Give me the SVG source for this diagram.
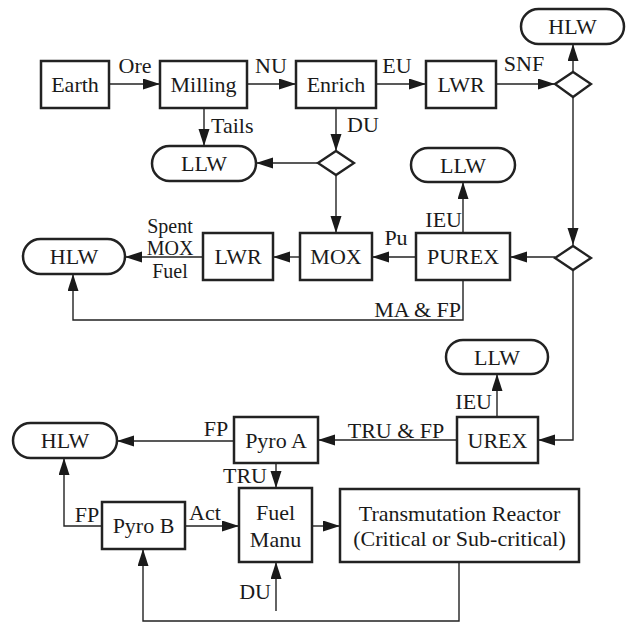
<svg xmlns="http://www.w3.org/2000/svg" width="628" height="623" viewBox="0 0 628 623">
<defs>
<marker id="ah" markerUnits="userSpaceOnUse" markerWidth="18" markerHeight="12" refX="17" refY="5.5" orient="auto">
<path d="M0,0 L17,5.5 L0,11 z" fill="#1a1a1a"/>
</marker>
<style>
.box{fill:#fff;stroke:#222;stroke-width:2.5}
.dia{fill:#fff;stroke:#222;stroke-width:2.3}
.t{font-family:"Liberation Serif","Times New Roman",serif;font-size:22px;fill:#1a1a1a;text-anchor:middle}
.l{font-family:"Liberation Serif","Times New Roman",serif;font-size:22px;fill:#1a1a1a}
.s{font-family:"Liberation Serif","Times New Roman",serif;font-size:20px;fill:#1a1a1a;text-anchor:middle}
.c{fill:none;stroke:#222;stroke-width:1.4}
.a{marker-end:url(#ah)}
</style>
</defs>
<rect width="628" height="623" fill="#fff"/>

<g id="connectors">
<line class="c a" x1="109" y1="84" x2="160" y2="84"/>
<line class="c a" x1="247" y1="84" x2="296" y2="84"/>
<line class="c a" x1="376" y1="84" x2="426" y2="84"/>
<line class="c a" x1="496" y1="84" x2="555" y2="84"/>
<line class="c a" x1="573" y1="72" x2="573" y2="44"/>
<line class="c a" x1="573" y1="97" x2="573" y2="245"/>
<line class="c a" x1="204" y1="108" x2="204" y2="146"/>
<line class="c a" x1="336" y1="108" x2="336" y2="151"/>
<line class="c a" x1="318" y1="163" x2="256" y2="163"/>
<line class="c a" x1="336" y1="175" x2="336" y2="233"/>
<line class="c a" x1="555" y1="257" x2="510" y2="257"/>
<line class="c a" x1="416" y1="257" x2="372" y2="257"/>
<line class="c a" x1="300" y1="257" x2="273" y2="257"/>
<line class="c a" x1="203" y1="257" x2="125" y2="257"/>
<line class="c a" x1="463" y1="233" x2="463" y2="182"/>
<polyline class="c a" points="463,280 463,320 73,320 73,274"/>
<polyline class="c a" points="573,270 573,440 538,440"/>
<line class="c a" x1="497" y1="417" x2="497" y2="374"/>
<line class="c a" x1="457" y1="440" x2="318" y2="440"/>
<line class="c a" x1="234" y1="441" x2="117" y2="441"/>
<line class="c a" x1="276" y1="463" x2="276" y2="488"/>
<polyline class="c a" points="102,526 64,526 64,458"/>
<line class="c a" x1="185" y1="526" x2="239" y2="526"/>
<line class="c a" x1="312" y1="526" x2="340" y2="526"/>
<line class="c a" x1="276" y1="611" x2="276" y2="562"/>
<polyline class="c a" points="459,562 459,621 143,621 143,549"/>

<text class="t" x="135" y="73">Ore</text>
<text class="t" x="271" y="73">NU</text>
<text class="t" x="397" y="73">EU</text>
<text class="t" x="524" y="71">SNF</text>
<text class="l" x="211" y="133">Tails</text>
<text class="l" x="347" y="132">DU</text>
<text class="t" x="396" y="245">Pu</text>
<text class="s" x="170" y="232.5">Spent</text>
<text class="s" x="170" y="255">MOX</text>
<text class="s" x="170" y="277.5">Fuel</text>
<text class="l" x="462" y="227" text-anchor="end">IEU</text>
<text class="l" x="461" y="317" text-anchor="end">MA &amp; FP</text>
<text class="l" x="492" y="409" text-anchor="end">IEU</text>
<text class="t" x="396" y="438">TRU &amp; FP</text>
<text class="t" x="216" y="436">FP</text>
<text class="l" x="267" y="483" text-anchor="end">TRU</text>
<text class="t" x="87" y="522">FP</text>
<text class="l" x="189" y="520">Act</text>
<text class="l" x="271" y="599" text-anchor="end">DU</text>
</g>

<g id="earth"><rect class="box" x="41" y="61" width="68" height="47"/><text class="t" x="75" y="92">Earth</text></g>
<g id="milling"><rect class="box" x="160" y="61" width="87" height="47"/><text class="t" x="203.5" y="92">Milling</text></g>
<g id="enrich"><rect class="box" x="296" y="61" width="80" height="47"/><text class="t" x="336" y="92">Enrich</text></g>
<g id="lwr1"><rect class="box" x="426" y="61" width="70" height="47"/><text class="t" x="461" y="92">LWR</text></g>
<g id="hlw1"><rect class="box" x="521" y="9" width="103" height="35" rx="17.5"/><text class="t" x="572.5" y="34">HLW</text></g>
<g id="split1"><path class="dia" d="M555,84 L573,72 L591,84 L573,97 z"/></g>
<g id="llw1"><rect class="box" x="152" y="146" width="104" height="35" rx="17.5"/><text class="t" x="204" y="171">LLW</text></g>
<g id="split2"><path class="dia" d="M318,163 L336,151 L354,163 L336,175 z"/></g>
<g id="llw2"><rect class="box" x="411" y="148" width="104" height="34" rx="17"/><text class="t" x="463" y="172.5">LLW</text></g>
<g id="split3"><path class="dia" d="M555,258 L573,246 L591,258 L573,270 z"/></g>
<g id="mox"><rect class="box" x="300" y="233" width="72" height="47"/><text class="t" x="336" y="264">MOX</text></g>
<g id="lwr2"><rect class="box" x="203" y="233" width="70" height="47"/><text class="t" x="238" y="264">LWR</text></g>
<g id="purex"><rect class="box" x="416" y="233" width="94" height="47"/><text class="t" x="463" y="264">PUREX</text></g>
<g id="hlw2"><rect class="box" x="23" y="239" width="102" height="35" rx="17.5"/><text class="t" x="74" y="264">HLW</text></g>
<g id="llw3"><rect class="box" x="446" y="340" width="102" height="34" rx="17"/><text class="t" x="497" y="364.5">LLW</text></g>
<g id="urex"><rect class="box" x="457" y="417" width="81" height="46"/><text class="t" x="497.5" y="447.5">UREX</text></g>
<g id="pyroa"><rect class="box" x="234" y="417" width="84" height="46"/><text class="t" x="276" y="447.5">Pyro A</text></g>
<g id="hlw3"><rect class="box" x="13" y="423" width="104" height="35" rx="17.5"/><text class="t" x="65" y="448">HLW</text></g>
<g id="pyrob"><rect class="box" x="102" y="502" width="83" height="47"/><text class="t" x="143.5" y="533">Pyro B</text></g>
<g id="fuelmanu"><rect class="box" x="239" y="488" width="73" height="74"/><text class="t" x="275.5" y="520">Fuel</text><text class="t" x="275.5" y="547">Manu</text></g>
<g id="reactor"><rect class="box" x="340" y="489" width="239" height="73"/><text class="t" x="459.5" y="521">Transmutation Reactor</text><text class="t" x="459.5" y="546">(Critical or Sub-critical)</text></g>
</svg>
